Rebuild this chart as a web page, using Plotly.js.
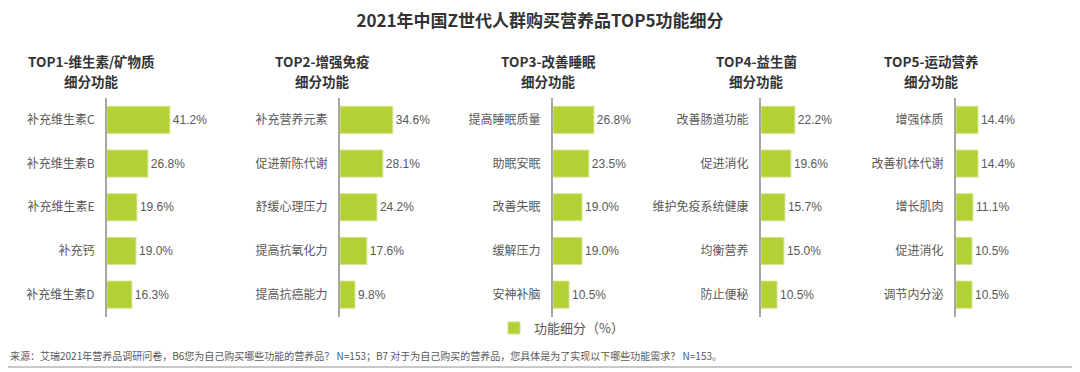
<!DOCTYPE html>
<html>
<head>
<meta charset="utf-8">
<script src="https://cdn.plot.ly/plotly-3.0.1.min.js"></script>
<style>html,body{margin:0;padding:0;background:#fff}#chart{width:1080px;height:372px}</style>
</head>
<body>
<div id="chart"></div>
<script>
// ---- data ----
const mainTitle = "2021年中国Z世代人群购买营养品TOP5功能细分";
const panelTitles = [
  "TOP1-维生素/矿物质",
  "TOP2-增强免疫",
  "TOP3-改善睡眠",
  "TOP4-益生菌",
  "TOP5-运动营养"
];
const panelSubtitle = "细分功能";
const cats1 = ["补充维生素C", "补充维生素B", "补充维生素E", "补充钙", "补充维生素D"];
const vals1 = [41.2, 26.8, 19.6, 19.0, 16.3];
const cats2 = ["补充营养元素", "促进新陈代谢", "舒缓心理压力", "提高抗氧化力", "提高抗癌能力"];
const vals2 = [34.6, 28.1, 24.2, 17.6, 9.8];
const cats3 = ["提高睡眠质量", "助眠安眠", "改善失眠", "缓解压力", "安神补脑"];
const vals3 = [26.8, 23.5, 19.0, 19.0, 10.5];
const cats4 = ["改善肠道功能", "促进消化", "维护免疫系统健康", "均衡营养", "防止便秘"];
const vals4 = [22.2, 19.6, 15.7, 15.0, 10.5];
const cats5 = ["增强体质", "改善机体代谢", "增长肌肉", "促进消化", "调节内分泌"];
const vals5 = [14.4, 14.4, 11.1, 10.5, 10.5];
const legendName = "功能细分（%）";
const sourceNote = "来源：艾瑞2021年营养品调研问卷，B6您为自己购买哪些功能的营养品？ N=153；B7 对于为自己购买的营养品，您具体是为了实现以下哪些功能需求？ N=153。";

// ---- layout helpers ----
const W = 1080, H = 372;
const px = v => v / W;
const py = v => 1 - v / H;
const FONT = "'Noto Sans CJK SC', 'Noto Sans', sans-serif";
const NUMFONT = "'Liberation Sans', 'Noto Sans CJK SC', sans-serif";
const GREEN = "#b1d135";
const TXT = "#595959";

const cats = [cats1, cats2, cats3, cats4, cats5];
const vals = [vals1, vals2, vals3, vals4, vals5];
const axisX = [107, 340, 553, 761, 956];
const titleX = [91, 322, 548, 756, 931];
const panelW = 110;
const pxPerUnit = 1.525;
const yDom = [py(316.5), py(98)];

const data = [];
const layout = {
  width: W, height: H,
  margin: {l: 0, r: 0, t: 0, b: 0},
  paper_bgcolor: "#fff", plot_bgcolor: "rgba(0,0,0,0)",
  font: {family: FONT, size: 12, color: TXT},
  bargap: 0.38,
  showlegend: true,
  legend: {
    orientation: "h", x: px(494), y: py(328), xanchor: "left", yanchor: "middle",
    font: {family: FONT, size: 13, color: TXT}, bgcolor: "rgba(0,0,0,0)"
  },
  title: {text: mainTitle, x: 0.5, xanchor: "center", y: py(21), yanchor: "middle",
          font: {family: FONT, size: 17, color: "#333333", weight: "bold"}},
  annotations: [],
  shapes: []
};

for (let i = 0; i < 5; i++) {
  const n = i + 1;
  const xa = n === 1 ? "x" : "x" + n;
  const ya = n === 1 ? "y" : "y" + n;
  data.push({
    type: "bar", orientation: "h",
    x: vals[i], y: cats[i],
    xaxis: xa, yaxis: ya,
    name: legendName, showlegend: i === 0,
    marker: {color: GREEN, line: {color: "#d3e58a", width: 1}},
    text: vals[i].map(v => v.toFixed(1) + "%"),
    textposition: "outside",
    textfont: {family: NUMFONT, size: 12, color: TXT},
    cliponaxis: false,
    hoverinfo: "skip"
  });
  layout["xaxis" + (n === 1 ? "" : n)] = {
    domain: [px(axisX[i]), px(axisX[i] + panelW)],
    range: [0, panelW / pxPerUnit],
    anchor: ya, visible: false, fixedrange: true
  };
  layout["yaxis" + (n === 1 ? "" : n)] = {
    domain: yDom, anchor: xa,
    autorange: "reversed", type: "category",
    showline: true, linecolor: "#a6a6a6", linewidth: 2,
    showgrid: false, zeroline: false,
    ticks: "", ticklabelstandoff: 8,
    tickfont: {family: FONT, size: 12, color: TXT},
    fixedrange: true
  };
  layout.annotations.push({
    xref: "paper", yref: "paper", x: px(titleX[i]), y: py(61.5),
    xanchor: "center", yanchor: "middle", showarrow: false,
    text: panelTitles[i],
    font: {family: FONT, size: 13.5, color: "#333333", weight: "bold"}
  });
  layout.annotations.push({
    xref: "paper", yref: "paper", x: px(titleX[i]), y: py(81),
    xanchor: "center", yanchor: "middle", showarrow: false,
    text: panelSubtitle,
    font: {family: FONT, size: 13.5, color: "#333333", weight: "bold"}
  });
}

layout.annotations.push({
  xref: "paper", yref: "paper", x: px(8), y: py(355),
  xanchor: "left", yanchor: "middle", showarrow: false,
  text: sourceNote, font: {family: FONT, size: 10, color: "#595959"}
});
layout.shapes.push({
  type: "line", xref: "paper", yref: "paper",
  x0: px(8), x1: px(1072), y0: py(367), y1: py(367),
  line: {color: "#c8c8c8", width: 2}
});

Plotly.newPlot("chart", data, layout, {displayModeBar: false, staticPlot: true});
</script>
</body>
</html>
